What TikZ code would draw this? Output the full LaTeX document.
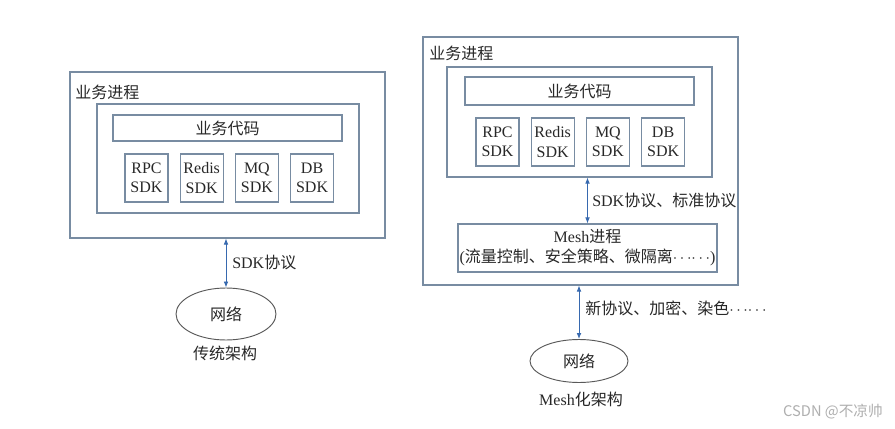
\documentclass[tikz,border=0pt]{standalone}
\usepackage{fontspec}
\setmainfont{Liberation Serif}
\newfontfamily\cjk{Noto Sans CJK SC}
\usetikzlibrary{arrows.meta,positioning,shapes.geometric}
\definecolor{boxCol}{RGB}{120,140,162}
\definecolor{arrCol}{RGB}{55,105,175}
\definecolor{txtCol}{RGB}{40,40,40}
\definecolor{wmCol}{RGB}{175,175,175}
\newcommand{\zh}[1]{{\cjk #1}}
\newcommand{\dotsmid}{$\cdots\!\cdots$}
\tikzset{
  frame/.style={draw=boxCol,line width=0.9pt,inner sep=0pt},
  sdk/.style={frame,align=center,minimum width=32.25pt,minimum height=36pt,
              font=\fontsize{12}{14.5}\selectfont,text=txtCol},
  biz/.style={frame,minimum width=171.75pt,font=\fontsize{12}{14.5}\selectfont,text=txtCol},
  net/.style={ellipse,draw=black!65,line width=0.7pt,inner sep=0pt,
              font=\fontsize{12}{14.5}\selectfont,text=txtCol},
  lab/.style={font=\fontsize{12}{14.5}\selectfont,text=txtCol,inner sep=0pt},
  link/.style={{Latex[length=4.5pt,width=3.5pt]}-{Latex[length=4.5pt,width=3.5pt]},
               draw=arrCol,line width=0.6pt},
}

\begin{document}
\begin{tikzpicture}[x=0.75pt,y=-0.75pt]
  \useasboundingbox[fill=white] (0,0) rectangle (895,428);
  % --- traditional architecture (left) ---
  \node[frame,minimum width=236.25pt,minimum height=124.5pt] (lproc) at (227.5,155) {};
  \node[lab,anchor=west] (lproct) at (75,92) {\zh{业务进程}};
  \node[frame,minimum width=196.5pt,minimum height=81.75pt] (lcode) at (228,158.5) {};
  \node[biz,minimum height=19.5pt] (lbiz) at (227.5,128) {\zh{业务代码}};
  \node[sdk] (lrpc) at (146.5,178) {RPC\\SDK};
  \node[sdk,right=8.25pt of lrpc] (lredis) {Redis\\SDK};
  \node[sdk,right=8.25pt of lredis] (lmq) {MQ\\SDK};
  \node[sdk,right=8.25pt of lmq] (ldb) {DB\\SDK};
  \node[net,minimum width=75pt,minimum height=39pt] (lnet) at (226,314) {\zh{网络}};
  \draw[link] (lnet.north) -- (lnet.north |- lproc.south);
  \node[lab,anchor=west] (lsdkp) at (232,262) {SDK\zh{协议}};
  \node[lab] (lcap) at (225,353) {\zh{传统架构}};
  % --- mesh architecture (right) ---
  \node[frame,minimum width=236.25pt,minimum height=186pt] (rproc) at (580.5,161) {};
  \node[lab,anchor=west] (rproct) at (429,53) {\zh{业务进程}};
  \node[frame,minimum width=198.75pt,minimum height=82.5pt] (rcode) at (579.5,122) {};
  \node[biz,minimum height=21pt] (rbiz) at (579.5,91) {\zh{业务代码}};
  \node[sdk] (rrpc) at (497.5,142) {RPC\\SDK};
  \node[sdk,right=8.25pt of rrpc] (rredis) {Redis\\SDK};
  \node[sdk,right=8.25pt of rredis] (rmq) {MQ\\SDK};
  \node[sdk,right=8.25pt of rmq] (rdb) {DB\\SDK};
  \node[frame,align=center,minimum width=194.25pt,minimum height=36pt,
        font=\fontsize{12}{15}\selectfont,text=txtCol] (mesh) at (587.5,248)
    {Mesh\zh{进程}\\(\zh{流量控制、安全策略、微隔离}\dotsmid)};
  \draw[link] (mesh.north) -- (mesh.north |- rcode.south);
  \node[lab,anchor=west] (rsdkp) at (592,200) {SDK\zh{协议、标准协议}};
  \node[net,minimum width=73.5pt,minimum height=32.25pt] (rnet) at (579,361) {\zh{网络}};
  \draw[link] (rnet.north) -- (rnet.north |- rproc.south);
  \node[lab,anchor=west] (rnewp) at (585,308) {\zh{新协议、加密、染色}\dotsmid};
  \node[lab] (rcap) at (581,399) {Mesh\zh{化架构}};
  % watermark
  \node[lab,text=wmCol,font=\cjk\fontsize{11}{13}\selectfont] (wm) at (833,412) {CSDN @不凉帅};
\end{tikzpicture}
\end{document}
